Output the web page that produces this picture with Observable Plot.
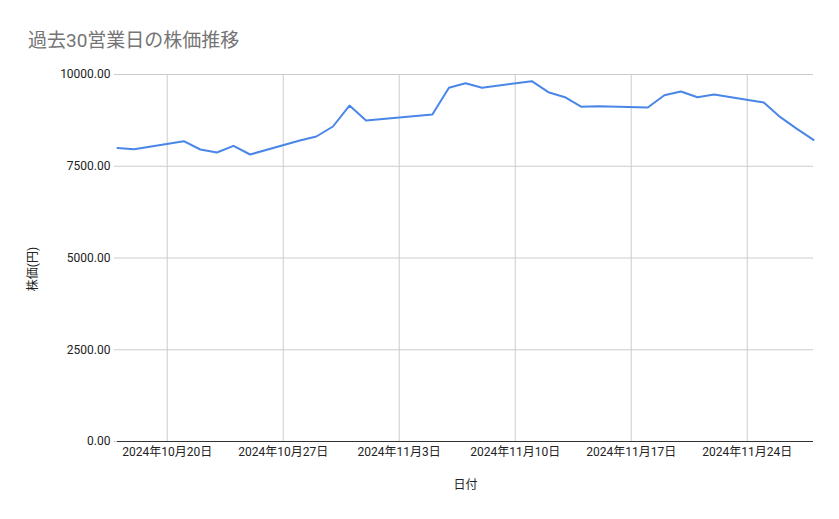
<!DOCTYPE html>
<html><head><meta charset="utf-8">
<script src="https://cdn.jsdelivr.net/npm/d3@7"></script>
<script src="https://cdn.jsdelivr.net/npm/@observablehq/plot@0.6"></script>
<style>
body{margin:0;background:#fff;font-family:Roboto,"Noto Sans CJK JP",sans-serif;}
#wrap{position:relative;width:839px;height:519px;}
#title{position:absolute;left:28px;top:25px;font-size:19px;color:#757575;font-family:Roboto,"Noto Sans CJK JP",sans-serif;white-space:nowrap;}
</style></head>
<body><div id="wrap"><div id="title">過去30営業日の株価推移</div></div>
<script>
const dates = ["2024-10-17","2024-10-18","2024-10-21","2024-10-22","2024-10-23","2024-10-24","2024-10-25",
"2024-10-28","2024-10-29","2024-10-30","2024-10-31","2024-11-01","2024-11-05","2024-11-06","2024-11-07","2024-11-08",
"2024-11-11","2024-11-12","2024-11-13","2024-11-14","2024-11-15","2024-11-18","2024-11-19","2024-11-20","2024-11-21","2024-11-22",
"2024-11-25","2024-11-26","2024-11-27","2024-11-28"];
const prices = [8000,7965,8183,7956,7875,8057,7820,8200,8311,8583,9155,8747,8910,9637,9763,9637,
9818,9518,9382,9119,9137,9101,9436,9537,9382,9455,9237,8837,8520,8220];
const xTicks = ["2024-10-20","2024-10-27","2024-11-03","2024-11-10","2024-11-17","2024-11-24"];
const yTicks = [0,2500,5000,7500,10000];
const yLabel = "株価(円)";
const xLabel = "日付";

const data = dates.map((d,i)=>({date:new Date(d+"T00:00:00Z"), price:prices[i]}));
const xt = xTicks.map(d=>new Date(d+"T00:00:00Z"));
const fmtDate = d => `${d.getUTCFullYear()}年${d.getUTCMonth()+1}月${d.getUTCDate()}日`;

const chart = Plot.plot({
  width:839, height:519,
  marginLeft:117, marginRight:26, marginTop:74, marginBottom:78,
  style:{fontFamily:'Roboto,"Noto Sans CJK JP",sans-serif', fontSize:"12px", color:"#222", background:"transparent"},
  x:{type:"utc", domain:[new Date("2024-10-17T00:00:00Z"), new Date("2024-11-28T00:00:00Z")]},
  y:{domain:[0,10000]},
  marks:[
    Plot.gridX(xt,{stroke:"#cccccc", strokeOpacity:1}),
    Plot.gridY(yTicks,{stroke:"#cccccc", strokeOpacity:1}),
    Plot.axisY(yTicks,{tickSize:3, tickPadding:0, text:null, color:"#cccccc", label:null}),
    Plot.axisY(yTicks,{tickSize:0, tickPadding:7, tickFormat:d3.format(".2f"), label:null, color:"#222"}),
    Plot.text([yLabel],{frameAnchor:"left", textAnchor:"middle", lineAnchor:"middle", dx:-84, dy:11, rotate:-90, fill:"#222", fontSize:12}),
    Plot.axisX(xt,{tickSize:0, tickPadding:6, tickFormat:fmtDate, label:xLabel, labelAnchor:"center", labelOffset:47, labelArrow:"none", color:"#222"}),
    Plot.ruleY([0],{stroke:"#333"}),
    Plot.line(data,{x:"date", y:"price", stroke:"#4a86e8", strokeWidth:2, strokeLinejoin:"round"})
  ]
});
chart.style.position="absolute"; chart.style.left="0"; chart.style.top="0";
document.getElementById("wrap").appendChild(chart);
</script></body></html>
